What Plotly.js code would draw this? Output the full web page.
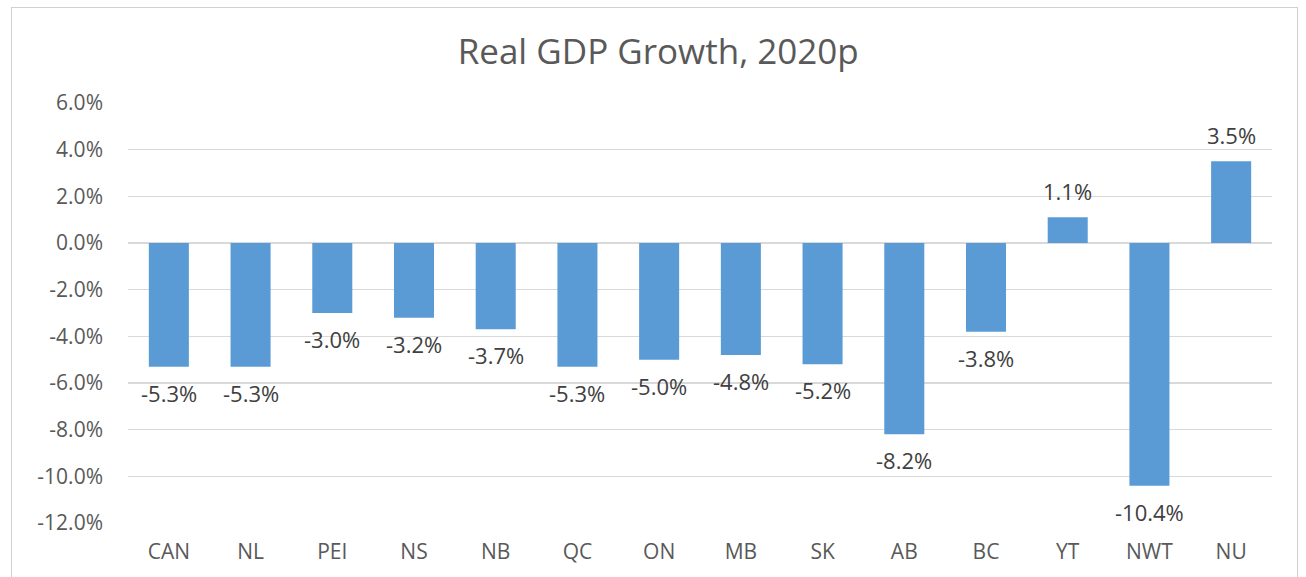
<!DOCTYPE html>
<html><head><meta charset="utf-8">
<script src="https://cdn.plot.ly/plotly-3.0.1.min.js"></script>
<style>
html,body{margin:0;padding:0;background:#fff;}
#frame{position:absolute;left:11px;top:7px;width:1287px;height:600px;border:1px solid #d0d0d0;box-sizing:border-box;}
#chart{position:absolute;left:0;top:0;width:1306px;height:577px;}
</style></head>
<body>
<div id="frame"></div>
<div id="chart"></div>
<script>
const categories = ["CAN","NL","PEI","NS","NB","QC","ON","MB","SK","AB","BC","YT","NWT","NU"];
const growth = [-5.3,-5.3,-3.0,-3.2,-3.7,-5.3,-5.0,-4.8,-5.2,-8.2,-3.8,1.1,-10.4,3.5];
const tickVals = [6,4,2,0,-2,-4,-6,-8,-10,-12];
const tickText = tickVals.map(v => v.toFixed(1) + "%");

const FONT = "'Open Sans', sans-serif";
const trace = {
  type: "bar",
  x: categories,
  y: growth,
  marker: {color: "#5B9BD5"},
  hoverinfo: "x+y"
};
const labels = categories.map((c, i) => ({
  x: c, y: growth[i], xref: "x", yref: "y",
  text: growth[i].toFixed(1) + "%",
  showarrow: false,
  yshift: growth[i] >= 0 ? 26 : -26,
  font: {family: FONT, size: 22, color: "#404040"}
}));
const layout = {
  width: 1306, height: 577,
  margin: {l: 128, r: 34, t: 103, b: 54},
  paper_bgcolor: "rgba(0,0,0,0)",
  plot_bgcolor: "rgba(0,0,0,0)",
  bargap: 0.51,
  showlegend: false,
  annotations: labels,
  title: {text: "Real GDP Growth, 2020p", x: 0.504, xref: "container", xanchor: "center",
          y: 0.91, yref: "container", yanchor: "middle",
          font: {family: FONT, size: 35, color: "#595959"}},
  xaxis: {type: "category", showgrid: false, zeroline: false, showline: false,
          ticks: "", ticklabelstandoff: 14,
          tickfont: {family: FONT, size: 21, color: "#595959"}},
  yaxis: {range: [-12, 6], tickvals: tickVals, ticktext: tickText,
          showgrid: true, gridcolor: "#d9d9d9", gridwidth: 1.3,
          zeroline: true, zerolinecolor: "#d9d9d9", zerolinewidth: 1.3,
          showline: false, ticks: "", ticklabelstandoff: 24,
          tickfont: {family: FONT, size: 21, color: "#595959"}},
  font: {family: FONT}
};
Plotly.newPlot("chart", [trace], layout, {displayModeBar: false, staticPlot: true});
</script>
</body></html>
